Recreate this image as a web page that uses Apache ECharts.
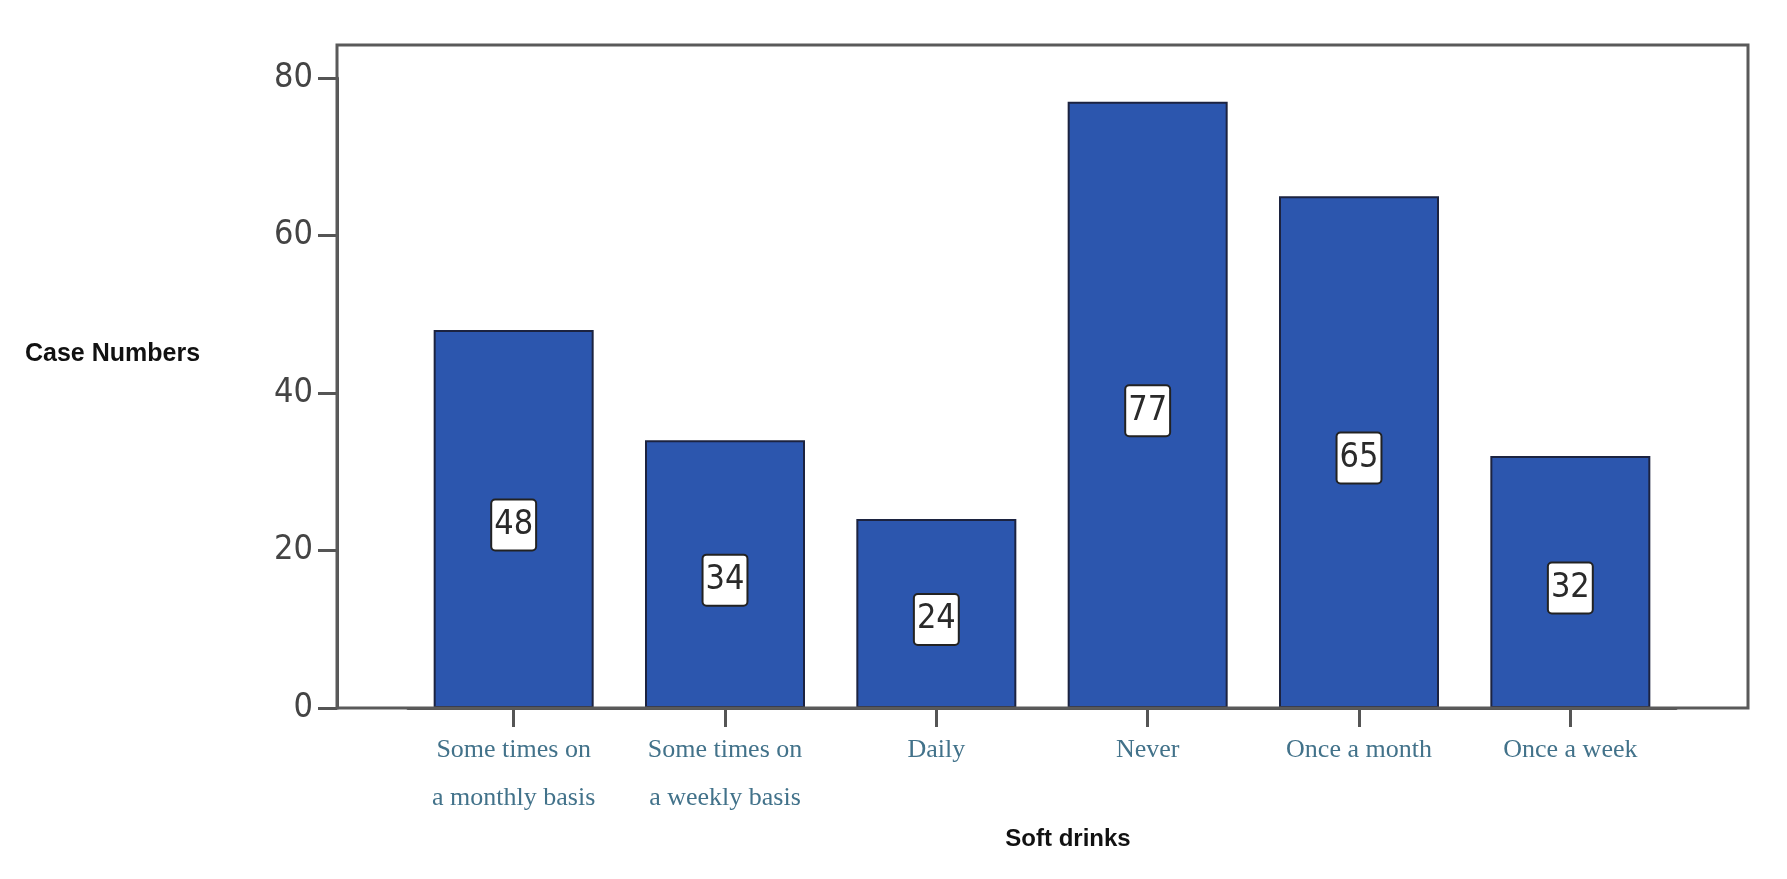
<!DOCTYPE html>
<html>
<head>
<meta charset="utf-8">
<script src="https://cdn.jsdelivr.net/npm/echarts@6/dist/echarts.min.js"></script>
<style>html,body{margin:0;padding:0;background:#fff;}#c{width:1787px;height:879px;}</style>
</head>
<body>
<div id="c"></div>
<script>
const categories = ['Some times on\na monthly basis', 'Some times on\na weekly basis', 'Daily', 'Never', 'Once a month', 'Once a week'];
const values = [48, 34, 24, 77, 65, 32];
const yTicks = [0, 20, 40, 60, 80];
const xName = 'Soft drinks';
const yName = 'Case Numbers';

const numFont = '"DejaVu Sans Condensed", "Liberation Sans", sans-serif';

const chart = echarts.init(document.getElementById('c'));
chart.setOption({
  animation: false,
  backgroundColor: '#ffffff',
  grid: { left: 408, right: 111, top: 78, bottom: 171 },
  title: {
    text: yName,
    left: 25,
    top: 342,
    padding: 0,
    textStyle: { fontFamily: 'Liberation Sans, Arial, sans-serif', fontWeight: 'bold', fontSize: 25, color: '#111' }
  },
  graphic: [{
    type: 'rect', z: 100,
    shape: { x: 337, y: 45, width: 1411, height: 663 },
    style: { fill: 'none', stroke: '#5a5a5a', lineWidth: 3 }
  }],
  xAxis: {
    type: 'category',
    data: categories,
    name: xName,
    nameLocation: 'middle',
    nameGap: 115,
    nameTextStyle: { fontFamily: 'Liberation Sans, Arial, sans-serif', fontWeight: 'bold', fontSize: 24, color: '#111', padding: [0, 0, 0, 52] },
    axisLine: { show: true, lineStyle: { color: '#555', width: 3 } },
    axisTick: { show: true, alignWithLabel: true, length: 19, lineStyle: { color: '#555', width: 3 } },
    axisLabel: { fontFamily: 'Liberation Serif, Times New Roman, serif', fontSize: 26, color: '#42728a', lineHeight: 48, margin: 18, interval: 0 }
  },
  yAxis: {
    type: 'value',
    min: yTicks[0], max: yTicks[yTicks.length - 1], interval: 20,
    offset: 71,
    axisLine: { show: true, lineStyle: { color: '#555', width: 3 } },
    axisTick: { show: true, length: 19, lineStyle: { color: '#555', width: 3 } },
    splitLine: { show: false },
    axisLabel: { fontFamily: numFont, fontSize: 34, color: '#444', margin: 24 }
  },
  series: [{
    type: 'bar',
    data: values,
    barWidth: 160,
    itemStyle: { color: '#2c56ae', borderColor: '#1c2340', borderWidth: 2 },
    label: {
      show: true,
      position: 'inside',
      fontFamily: numFont,
      fontSize: 34,
      color: '#2a2a2a',
      backgroundColor: '#ffffff',
      borderColor: '#222',
      borderWidth: 2,
      borderRadius: 3,
      padding: [9, 2, 6, 2],
      offset: [0, 6]
    }
  }]
});
</script>
</body>
</html>
